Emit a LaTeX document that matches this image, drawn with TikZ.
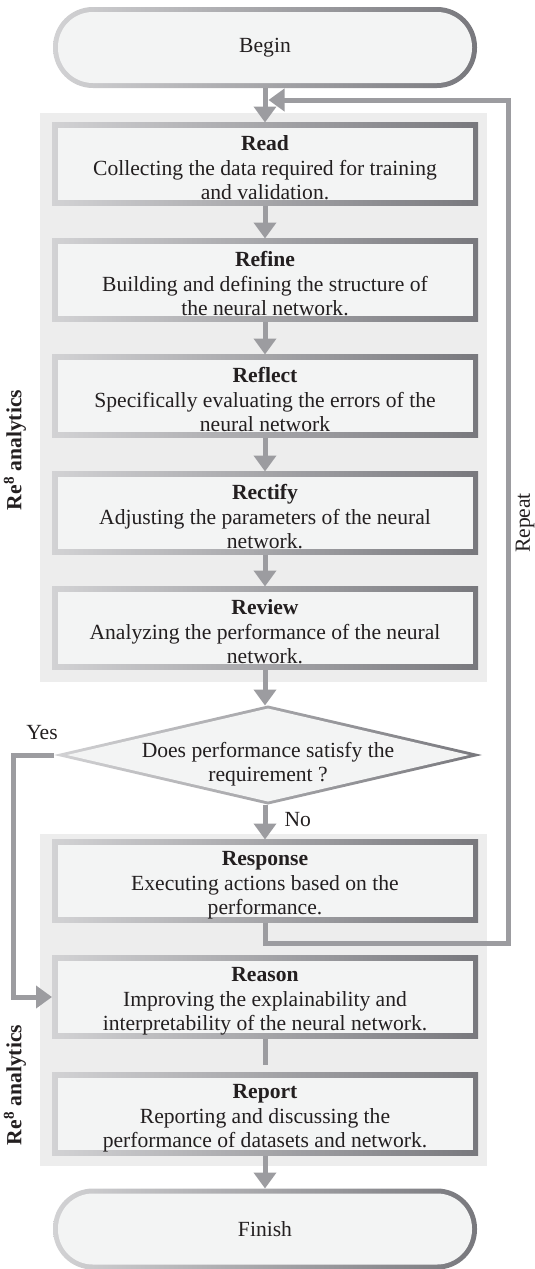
\documentclass[tikz,border=0pt]{standalone}
\usepackage{fontspec}
\setmainfont{Liberation Serif}
\usetikzlibrary{arrows.meta,shapes.geometric}
\definecolor{ink}{HTML}{231F20}
\definecolor{panel}{HTML}{EDEDED}
\definecolor{boxfill}{HTML}{F3F4F4}
\definecolor{edgeL}{HTML}{D2D2D4}
\definecolor{edgeR}{HTML}{78787D}
\definecolor{wire}{HTML}{9C9CA0}
% step title with a strut that lowers the text block slightly inside its box
\newcommand{\steptitle}[1]{\rule{0pt}{23pt}\textbf{#1}}

\begin{document}
\begin{tikzpicture}[x=1pt,y=-1pt,
  txt/.style={text=ink, font=\fontsize{21.6}{24.5}\selectfont},
  stepbox/.style={txt, rectangle, minimum width=426pt, minimum height=83pt,
    inner sep=0pt, outer sep=0pt, align=center,
    left color=edgeL, right color=edgeR,
    path picture={\fill[boxfill]
      ([shift={(5.5pt,5.5pt)}]path picture bounding box.south west) rectangle
      ([shift={(-5.5pt,-5.5pt)}]path picture bounding box.north east);}},
  terminal/.style={txt, rectangle, rounded corners=40pt, minimum width=424pt,
    minimum height=81pt, inner sep=0pt, outer sep=0pt,
    left color=edgeL, right color=edgeR,
    path picture={\fill[boxfill, rounded corners=35pt]
      ([shift={(5pt,5pt)}]path picture bounding box.south west) rectangle
      ([shift={(-5pt,-5pt)}]path picture bounding box.north east);}},
  decision/.style={txt, diamond, aspect=4.32, minimum width=428pt, minimum height=99pt,
    inner sep=0pt, outer sep=0pt,
    left color=edgeL, right color=edgeR,
    path picture={\fill[boxfill]
      ([xshift=13pt]path picture bounding box.west) --
      ([yshift=-3pt]path picture bounding box.north) --
      ([xshift=-13pt]path picture bounding box.east) --
      ([yshift=3pt]path picture bounding box.south) -- cycle;}},
  wire/.style={draw=wire, line width=5pt},
  flow/.style={wire, -{Triangle[length=16pt,width=22pt]}},
  sidelabel/.style={text=ink, font=\fontsize{21.6}{24.5}\selectfont\bfseries, rotate=90},
]
\useasboundingbox (0,0) rectangle (535,1269);

% shaded panels behind the two groups of steps
\fill[panel] (40,113) rectangle (487,682);
\fill[panel] (40,834) rectangle (487,1166);

% flow nodes
\node[terminal] (begin) at (265,47.5) {Begin};
\node[stepbox] (read) at (265,164)
  {\steptitle{Read}\\Collecting the data required for training\\and validation.};
\node[stepbox] (refine) at (265,280)
  {\steptitle{Refine}\\Building and defining the structure of\\the neural network.};
\node[stepbox] (reflect) at (265,396)
  {\steptitle{Reflect}\\Specifically evaluating the errors of the\\neural network};
\node[stepbox] (rectify) at (265,513)
  {\steptitle{Rectify}\\Adjusting the parameters of the neural\\network.};
\node[stepbox] (review) at (265,628)
  {\steptitle{Review}\\Analyzing the performance of the neural\\network.};
% the question sits a little below the middle of the diamond
\node[decision] (dec) at (268,755)
  {\raisebox{-15pt}[0pt][0pt]{\begin{tabular}{@{}c@{}}Does performance satisfy the\\requirement ?\end{tabular}}};
\node[stepbox] (response) at (265,881)
  {\steptitle{Response}\\Executing actions based on the\\performance.};
\node[stepbox] (reason) at (265,997)
  {\steptitle{Reason}\\Improving the explainability and\\interpretability of the neural network.};
\node[stepbox] (report) at (265,1114)
  {\steptitle{Report}\\Reporting and discussing the\\performance of datasets and network.};
\node[terminal] (finish) at (265,1229) {Finish};

% labels
\node[txt] (yes) at (42,733) {Yes};
\node[txt, anchor=west] (no) at (281,820) {No};
\node[txt, rotate=90] (repeat) at (525,523) {Repeat};
\node[sidelabel] (re1) at (15,450) {Re\textsuperscript{8} analytics};
\node[sidelabel] (re2) at (15,1085) {Re\textsuperscript{8} analytics};

% connectors
\draw[flow] (begin.south) -- (read.north);
\draw[flow] (read.south) -- (refine.north);
\draw[flow] (refine.south) -- (reflect.north);
\draw[flow] (reflect.south) -- (rectify.north);
\draw[flow] (rectify.south) -- (review.north);
\draw[flow] (review.south) -- (review.south |- dec.north);
\draw[flow] (dec.south -| response.north) -- (response.north);
\draw[wire] (reason.south) -- ([yshift=8pt]report.north);
\draw[flow] (report.south) -- (finish.north);

% repeat loop back to the top
\coordinate (loopR) at (508,943);
\coordinate (loopTop) at (508,100);
\coordinate (loopIn) at (268.5,100);
\draw[flow] (response.south) |- (loopR) -- (loopTop) -- (loopIn);

% yes branch
\coordinate (yesX) at (13,0);
\draw[flow] (dec.west) -- (dec.west -| yesX) |- (reason.west);
\end{tikzpicture}
\end{document}
